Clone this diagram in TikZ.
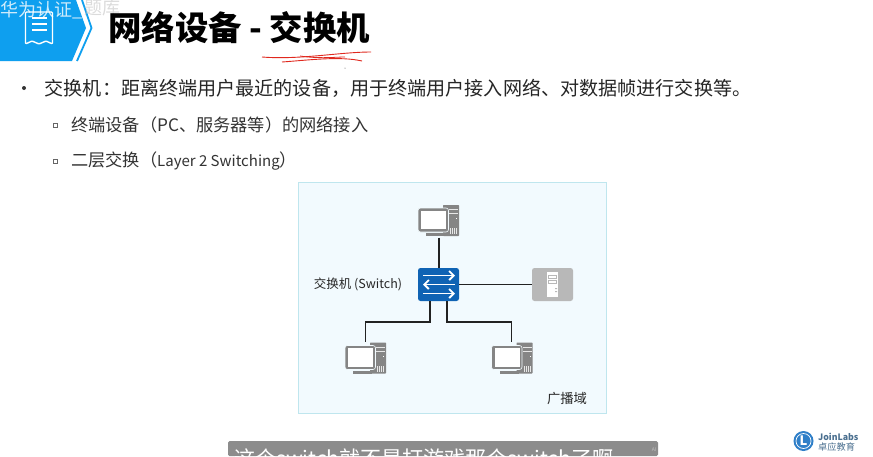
\documentclass[tikz,border=0pt]{standalone}
\usetikzlibrary{arrows.meta}
\usepackage{fontspec}
\setmainfont{Noto Sans CJK SC}
\definecolor{bannerblue}{HTML}{0E9FEF}
\definecolor{panelfill}{HTML}{F2FAFE}
\definecolor{panelline}{HTML}{BFE6EE}
\definecolor{switchblue}{HTML}{0F63B4}
\definecolor{pcgray}{HTML}{858585}
\definecolor{srvgray}{HTML}{B8B8B8}
\definecolor{inkline}{HTML}{222222}
\definecolor{scribble}{HTML}{E0281E}
\definecolor{logoblue}{HTML}{2F7FC8}
\definecolor{logotext}{HTML}{4A6F8F}
\tikzset{
  txt/.style={inner sep=0pt,anchor=west,text=black!85,font=\fontsize{19.1}{19}\selectfont},
  subtxt/.style={inner sep=0pt,anchor=west,text=black!80,font=\fontsize{17.2}{17}\selectfont},
  smalltxt/.style={inner sep=0pt,text=black!85,font=\fontsize{12.5}{12.5}\selectfont},
  link/.style={draw=inkline,line width=1.2pt},
  device/.style={minimum width=41pt,minimum height=33pt,inner sep=0pt},
  swarrow/.style={white,line width=1.9pt,-{Straight Barb[length=4.5pt,width=9pt]}},
  pc/.pic={
    \fill[pcgray,rounded corners=.6pt] (4,-16) rectangle (20,15);
    \fill[white!80!pcgray] (10,-12) rectangle (19,-11);
    \fill[white!80!pcgray] (10,-8) rectangle (19,-7);
    \fill[white] (17,-3) rectangle (18,-2);
    \foreach \gx in {11,13,15,17}{\fill[white!80!pcgray] (\gx,7) rectangle (\gx+.8,13);}
    \fill[pcgray] (-13,12) rectangle (6,15);
    \fill[pcgray,rounded corners=2.5pt,draw=panelfill,line width=.6pt] (-21,-13) rectangle (9.5,11);
    \fill[white] (-18,-10.4) rectangle (7,8.3);
  }
}
\begin{document}
\begin{tikzpicture}[x=1pt,y=-1pt]
\useasboundingbox (0,0) rectangle (873,456);
\clip (0,0) rectangle (873,456);
\fill[white] (0,0) rectangle (873,456);
% banner
\fill[bannerblue] (0,0) -- (76,0) -- (86,28) -- (72,61) -- (0,61) -- cycle;
\draw[bannerblue,line width=1.8pt] (82,0) -- (91.5,28) -- (77,61);
\draw[white,line width=1.4pt,line join=round,rounded corners=1pt] (25.5,12) -- (52.5,12) -- (52.5,44) -- (46,41) -- (39,44) -- (32,41) -- (25.5,44) -- cycle;
\draw[white,line width=1.3pt] (32,18) -- (47,18) (32,24) -- (47,24) (32,30) -- (47,30);
\node[inner sep=0pt,anchor=west,text=white,opacity=.8,font=\fontsize{18}{18}\selectfont] (wm) at (0,10) {华为认证\_};
\node[inner sep=0pt,anchor=west,text=black!25,opacity=.55,font=\fontsize{18}{18}\selectfont] (wm2) at (84,8) {题库};
% title
\node[inner sep=0pt,anchor=west,text=black,font=\fontsize{33.4}{33.4}\selectfont\bfseries] (title) at (108,27.5) {网络设备 - 交换机};
\draw[scribble,line width=.9pt] (262,57) .. controls (300,60) and (340,52) .. (371,52);
\draw[scribble,line width=.9pt] (282,62) .. controls (310,60) and (340,56) .. (362,61);
\draw[scribble,line width=.8pt] (300,56) .. controls (320,59) and (335,57) .. (345,57);
\fill[black!70] (345,68) circle (.5);
% bullets
\fill[black!80] (24,88) circle (2);
\node[txt] (b1) at (44.5,88) {交换机：距离终端用户最近的设备，用于终端用户接入网络、对数据帧进行交换等。};
\draw[black!60,line width=.7pt] (53,123) rectangle (57,127);
\node[subtxt] (b2) at (71,125) {终端设备（PC、服务器等）的网络接入};
\draw[black!60,line width=.7pt] (53,159) rectangle (57,163);
\node[subtxt] (b3) at (71,161) {二层交换（{\fontsize{15}{15}\selectfont Layer 2 Switching}）};
% panel
\fill[panelfill,draw=panelline,line width=1pt] (298.5,182.5) rectangle (606.5,413);
% devices
\node[device] (top) at (439,221) {};
\node[device] (left) at (366,358.5) {};
\node[device] (right) at (512.5,358.5) {};
\node[device,fill=switchblue,rounded corners=2.5pt] (sw) at (438.5,284.5) {};
\node[device,fill=srvgray,rounded corners=2.5pt] (srv) at (552.5,284.5) {};
\coordinate (swL) at (430,301);
\coordinate (swR) at (447,301);
\coordinate (midL) at (365.7,322);
\coordinate (midR) at (511.7,322);
\draw[link] (top.south) -- (top.south |- sw.north);
\draw[link] (sw.east) -- (srv.west);
\draw[link] (swL) |- (midL) -- (midL |- left.north);
\draw[link] (swR) |- (midR) -- (midR |- right.north);
\pic at (439,221) {pc};
\pic at (366,358.5) {pc};
\pic at (512.5,358.5) {pc};
% switch arrows
\draw[swarrow] (423,275.5) -- (455,275.5);
\draw[swarrow] (455,284.5) -- (423,284.5);
\draw[swarrow] (423,293.5) -- (455,293.5);
% server
\fill[white] (547,272) rectangle (558,297);
\draw[srvgray,line width=.7pt] (548.5,275.5) rectangle (556.5,278.5) (548.5,280.5) rectangle (556.5,283.5);
\fill[srvgray] (555,288) rectangle (557,289) (555,291) rectangle (557,292);
% labels
\node[smalltxt] (swl) at (358,284) {交换机 (Switch)};
\node[smalltxt,font=\fontsize{13.3}{13.3}\selectfont] (bd) at (567,398) {广播域};
% caption
\fill[black!45,rounded corners=1.5pt] (228,441) rectangle (658,456);
\node[inner sep=0pt,anchor=west,text=white,font=\fontsize{21}{21}\selectfont] (cap) at (234,459) {这个switch就不是打游戏那个switch了啊};
\node[inner sep=0pt,text=white!75!black,font=\fontsize{5}{5}\selectfont] (ai) at (654,450) {AI};
% logo
\fill[logoblue] (803.5,441) circle (10);
\draw[white,line width=.7pt] (803.5,441) circle (7.5);
\node[inner sep=0pt,text=white,font=\fontsize{13}{13}\selectfont\bfseries] (logoL) at (803.5,441) {L};
\node[inner sep=0pt,anchor=west,text=logotext,font=\fontsize{8.8}{8}\selectfont\bfseries] (logo1) at (818,436.5) {JoinLabs};
\node[inner sep=0pt,anchor=west,text=logotext,font=\fontsize{9.2}{9}\selectfont] (logo2) at (818,447) {卓应教育};
\end{tikzpicture}
\end{document}
